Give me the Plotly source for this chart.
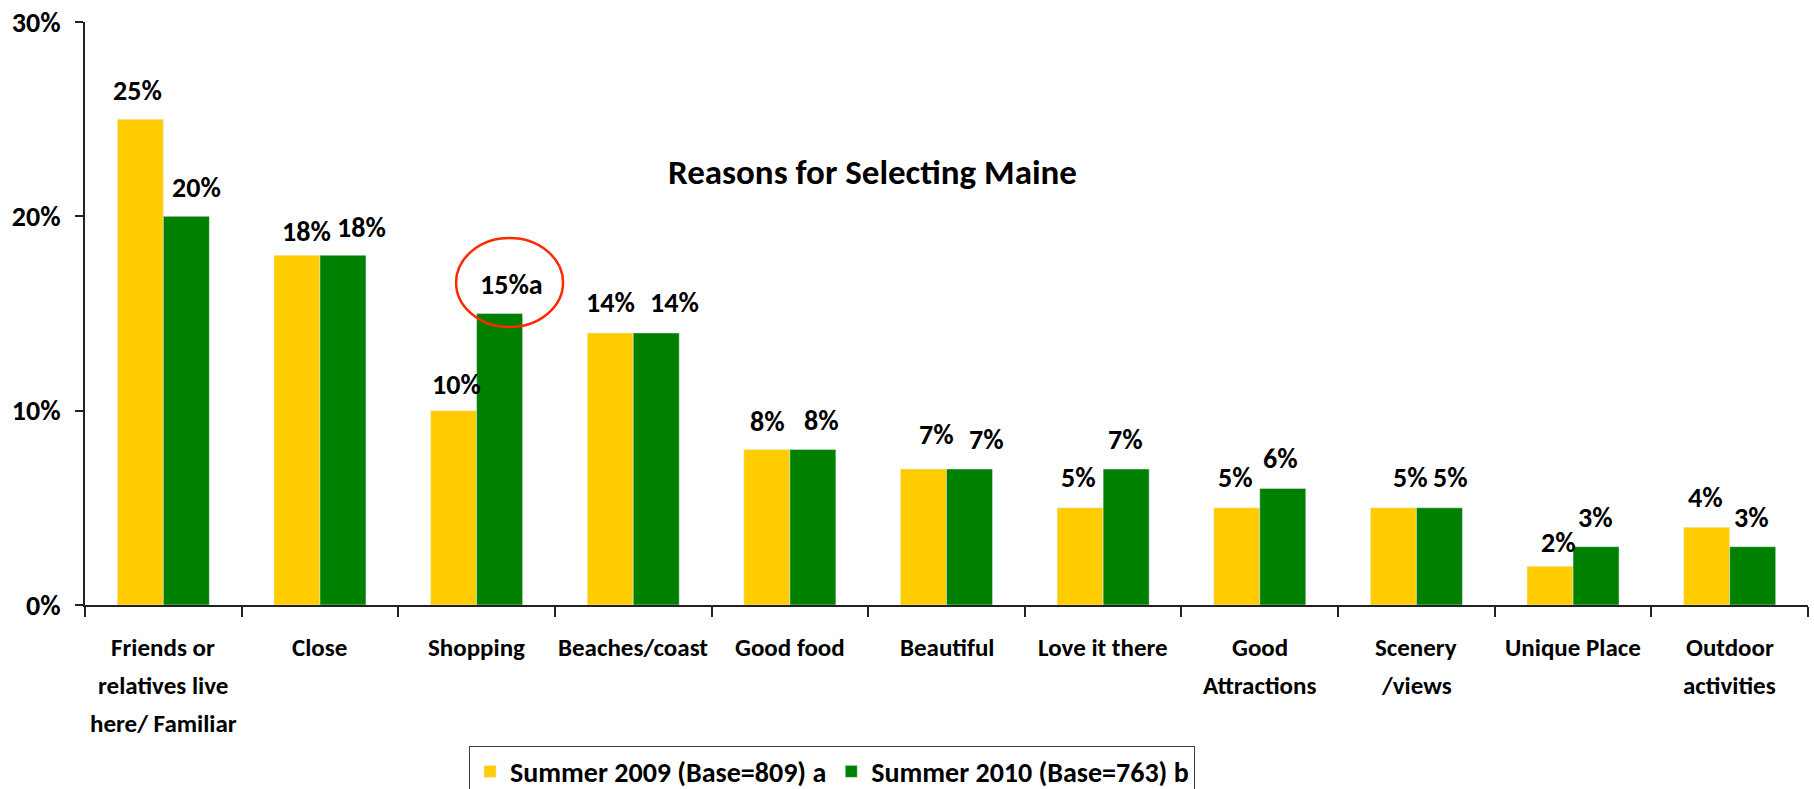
import plotly.graph_objects as go

categories = ["Friends or relatives live here/ Familiar", "Close", "Shopping", "Beaches/coast",
              "Good food", "Beautiful", "Love it there", "Good Attractions", "Scenery /views",
              "Unique Place", "Outdoor activities"]
label_lines = [["Friends or", "relatives live", "here/ Familiar"], ["Close"], ["Shopping"],
               ["Beaches/coast"], ["Good food"], ["Beautiful"], ["Love it there"],
               ["Good", "Attractions"], ["Scenery", "/views"], ["Unique Place"],
               ["Outdoor", "activities"]]
summer2009 = [25, 18, 10, 14, 8, 7, 5, 5, 5, 2, 4]
summer2010 = [20, 18, 15, 14, 8, 7, 7, 6, 5, 3, 3]
labels2009 = ["25%", "18%", "10%", "14%", "8%", "7%", "5%", "5%", "5%", "2%", "4%"]
labels2010 = ["20%", "18%", "15%a", "14%", "8%", "7%", "7%", "6%", "5%", "3%", "3%"]
name2009 = "Summer 2009 (Base=809) a"
name2010 = "Summer 2010 (Base=763) b"
y_ticks = [0, 10, 20, 30]
y_tick_labels = ["0%", "10%", "20%", "30%"]

# label placement style (pixel nudges of the hand-placed data labels)
dx2009 = [-3, 9.6, 2.5, 0, 1, 13, -1.6, -1, 16.6, 8, -1]
dx2010 = [10, 19, 11.5, 18, 9, 17, -1, -2, 10.6, -1, -1]
gap2009 = [19, 14, 16, 20, 18, 24.6, 20.4, 20.4, 20.4, 14, 19.7]
gap2010 = [19, 18, 19, 20, 19, 19.3, 19.6, 19.6, 20.4, 19.3, 19.3]

FONT = "Carlito, 'Liberation Sans Narrow', 'Open Sans', sans-serif"
HALF_BAR = 23
DESC = 9.5

fig = go.Figure()
fig.add_trace(go.Bar(x=categories, y=summer2009, name=name2009, marker_color="#FFCC00"))
fig.add_trace(go.Bar(x=categories, y=summer2010, name=name2010, marker_color="#008000"))

annotations = []
for cat, lines in zip(categories, label_lines):
    for i, ln in enumerate(lines):
        annotations.append(dict(x=cat, xref="x", y=-0.0735 - 0.0651 * i, yref="paper",
                                text=ln, showarrow=False, xanchor="center", yanchor="middle",
                                font=dict(family=FONT, size=25, color="black", weight="bold")))
for vals, labs, dxs, gaps, side in ((summer2009, labels2009, dx2009, gap2009, -1),
                                     (summer2010, labels2010, dx2010, gap2010, 1)):
    for cat, v, lab, dx, g in zip(categories, vals, labs, dxs, gaps):
        annotations.append(dict(x=cat, xref="x", y=v, yref="y", text=lab, showarrow=False,
                                xanchor="center", yanchor="bottom",
                                xshift=side * HALF_BAR + dx, yshift=g - DESC,
                                font=dict(family=FONT, size=28, color="black", weight="bold")))
annotations.append(dict(x=0.4568, xref="paper", y=0.7424, yref="paper", text="Reasons for Selecting Maine",
                        showarrow=False, xanchor="center", yanchor="middle",
                        font=dict(family=FONT, size=35, color="black", weight="bold")))

fig.update_layout(
    width=1814, height=789,
    margin=dict(l=85, r=6, t=22, b=184, autoexpand=False),
    barmode="group", bargap=0.4125, bargroupgap=0,
    plot_bgcolor="white", paper_bgcolor="white",
    showlegend=True,
    legend=dict(orientation="h", x=0.2229, xanchor="left", y=-0.2413, yanchor="top",
                bordercolor="#404040", borderwidth=1, bgcolor="white",
                font=dict(family=FONT, size=28, color="black", weight="bold")),
    annotations=annotations,
    shapes=[dict(type="circle", xref="x", yref="y", x0=1.869, x1=2.552, y0=14.30, y1=18.88,
                 line=dict(color="#FF2A00", width=2.5), layer="above")],
)
fig.update_xaxes(type="category", showline=True, linecolor="#222222", linewidth=1.5,
                 ticks="outside", tickson="boundaries", ticklen=10, tickcolor="#222222",
                 tickwidth=1.5, showticklabels=False, showgrid=False)
fig.update_yaxes(range=[0, 30], tickvals=y_ticks, ticktext=y_tick_labels, showline=True,
                 linecolor="#222222", linewidth=1.5, ticks="outside", ticklen=8, tickcolor="#222222",
                 tickwidth=1.5, ticklabelstandoff=9, showgrid=False, zeroline=False,
                 tickfont=dict(family=FONT, size=28, color="black", weight="bold"))

fig.write_html("out.html", config={"displayModeBar": False},
               post_script="document.body.style.margin='0px';")
